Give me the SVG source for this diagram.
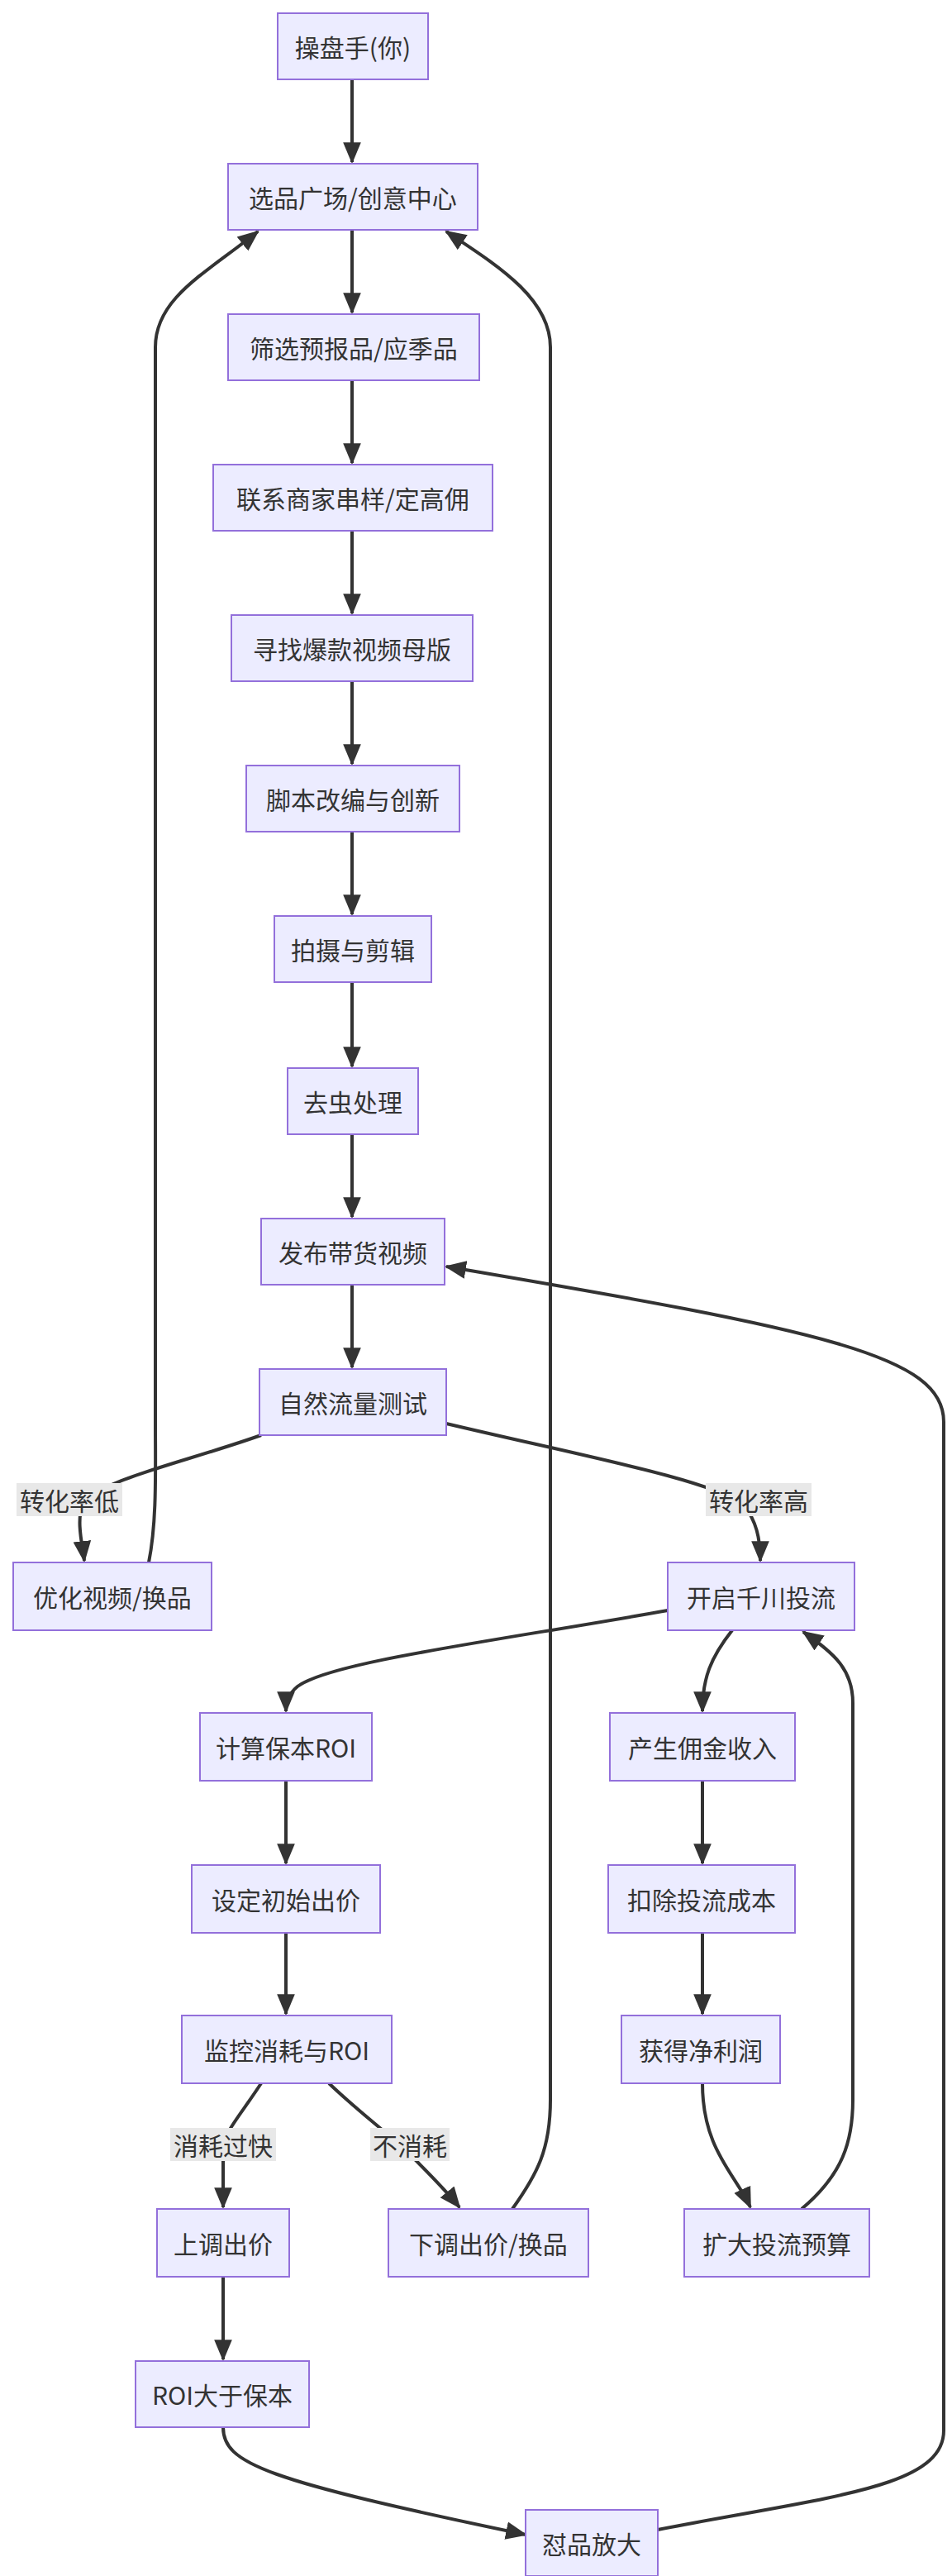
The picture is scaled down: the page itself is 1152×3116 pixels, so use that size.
<svg xmlns="http://www.w3.org/2000/svg" width="1152" height="3116" viewBox="0 0 1152 3116">
<style>
.n rect{fill:#ECECFF;stroke:#9370DB;stroke-width:2}
.n text,.l text{font-family:"Noto Sans CJK SC","Liberation Sans",sans-serif;font-size:30px;fill:#333;text-anchor:middle;dominant-baseline:central}
.e path{fill:none;stroke:#333;stroke-width:4}
.l rect{fill:#e8e8e8}
</style>
<defs><marker id="a" viewBox="0 0 12 12" refX="11" refY="6" markerWidth="26" markerHeight="26" markerUnits="userSpaceOnUse" orient="auto"><path d="M0,1 L12,6 L0,11 z" fill="#333"/></marker></defs>
<rect width="1152" height="3116" fill="#fff"/>
<g class="e" marker-end="url(#a)">
<path d="M426,96 V196" marker-end="url(#a)"/>
<path d="M426,278 V378" marker-end="url(#a)"/>
<path d="M426,460 V560" marker-end="url(#a)"/>
<path d="M426,642 V742" marker-end="url(#a)"/>
<path d="M426,824 V924" marker-end="url(#a)"/>
<path d="M426,1006 V1106" marker-end="url(#a)"/>
<path d="M426,1188 V1290" marker-end="url(#a)"/>
<path d="M426,1372 V1472" marker-end="url(#a)"/>
<path d="M426,1554 V1654" marker-end="url(#a)"/>
<path d="M316,1736 C220,1770 120,1790 100,1820 C92,1840 100,1870 102,1888" marker-end="url(#a)"/>
<path d="M540,1722 C700,1760 860,1790 900,1820 C915,1840 920,1860 920,1888" marker-end="url(#a)"/>
<path d="M180,1890 C190,1840 188,1780 188,1720 V420 C188,360 250,330 312,280" marker-end="url(#a)"/>
<path d="M620,2672 C650,2630 666,2600 666,2540 V420 C666,360 600,320 540,280" marker-end="url(#a)"/>
<path d="M808,1948 C600,1985 400,2010 360,2040 C348,2050 346,2060 346,2070" marker-end="url(#a)"/>
<path d="M886,1972 C860,2005 850,2030 850,2070" marker-end="url(#a)"/>
<path d="M850,2154 V2254" marker-end="url(#a)"/>
<path d="M850,2338 V2436" marker-end="url(#a)"/>
<path d="M850,2520 C850,2600 890,2630 908,2670" marker-end="url(#a)"/>
<path d="M970,2672 C1020,2630 1032,2590 1032,2540 V2060 C1032,2020 1010,2000 972,1974" marker-end="url(#a)"/>
<path d="M346,2154 V2254" marker-end="url(#a)"/>
<path d="M346,2338 V2436" marker-end="url(#a)"/>
<path d="M316,2520 C290,2560 270,2580 270,2600 V2670" marker-end="url(#a)"/>
<path d="M398,2520 C440,2560 470,2580 500,2610 C520,2630 540,2650 556,2670" marker-end="url(#a)"/>
<path d="M270,2754 V2854" marker-end="url(#a)"/>
<path d="M270,2936 C270,2980 320,3000 636,3066" marker-end="url(#a)"/>
<path d="M796,3060 C1000,3020 1142,3010 1142,2940 V1720 C1142,1640 1000,1610 540,1532" marker-end="url(#a)"/>
</g>
<g class="l">
<rect x="20" y="1794" width="128" height="40"/><text x="84" y="1814">转化率低</text>
<rect x="854" y="1794" width="128" height="40"/><text x="918" y="1814">转化率高</text>
<rect x="206" y="2574" width="128" height="40"/><text x="270" y="2594">消耗过快</text>
<rect x="448" y="2574" width="96" height="40"/><text x="496" y="2594">不消耗</text>
</g>
<g id="n1" class="n"><rect x="336" y="16" width="182" height="80"/><text x="427" y="56">操盘手(你)</text></g>
<g id="n2" class="n"><rect x="276" y="198" width="302" height="80"/><text x="427" y="238">选品广场/创意中心</text></g>
<g id="n3" class="n"><rect x="276" y="380" width="304" height="80"/><text x="428" y="420">筛选预报品/应季品</text></g>
<g id="n4" class="n"><rect x="258" y="562" width="338" height="80"/><text x="427" y="602">联系商家串样/定高佣</text></g>
<g id="n5" class="n"><rect x="280" y="744" width="292" height="80"/><text x="426" y="784">寻找爆款视频母版</text></g>
<g id="n6" class="n"><rect x="298" y="926" width="258" height="80"/><text x="427" y="966">脚本改编与创新</text></g>
<g id="n7" class="n"><rect x="332" y="1108" width="190" height="80"/><text x="427" y="1148">拍摄与剪辑</text></g>
<g id="n8" class="n"><rect x="348" y="1292" width="158" height="80"/><text x="427" y="1332">去虫处理</text></g>
<g id="n9" class="n"><rect x="316" y="1474" width="222" height="80"/><text x="427" y="1514">发布带货视频</text></g>
<g id="n10" class="n"><rect x="314" y="1656" width="226" height="80"/><text x="427" y="1696">自然流量测试</text></g>
<g id="n11" class="n"><rect x="16" y="1890" width="240" height="82"/><text x="136" y="1931">优化视频/换品</text></g>
<g id="n12" class="n"><rect x="808" y="1890" width="226" height="82"/><text x="921" y="1931">开启千川投流</text></g>
<g id="n13" class="n"><rect x="242" y="2072" width="208" height="82"/><text x="346" y="2113">计算保本ROI</text></g>
<g id="n14" class="n"><rect x="738" y="2072" width="224" height="82"/><text x="850" y="2113">产生佣金收入</text></g>
<g id="n15" class="n"><rect x="232" y="2256" width="228" height="82"/><text x="346" y="2297">设定初始出价</text></g>
<g id="n16" class="n"><rect x="736" y="2256" width="226" height="82"/><text x="849" y="2297">扣除投流成本</text></g>
<g id="n17" class="n"><rect x="220" y="2438" width="254" height="82"/><text x="347" y="2479">监控消耗与ROI</text></g>
<g id="n18" class="n"><rect x="752" y="2438" width="192" height="82"/><text x="848" y="2479">获得净利润</text></g>
<g id="n19" class="n"><rect x="190" y="2672" width="160" height="82"/><text x="270" y="2713">上调出价</text></g>
<g id="n20" class="n"><rect x="470" y="2672" width="242" height="82"/><text x="591" y="2713">下调出价/换品</text></g>
<g id="n21" class="n"><rect x="828" y="2672" width="224" height="82"/><text x="940" y="2713">扩大投流预算</text></g>
<g id="n22" class="n"><rect x="164" y="2856" width="210" height="80"/><text x="269" y="2896">ROI大于保本</text></g>
<g id="n23" class="n"><rect x="636" y="3036" width="160" height="80"/><text x="716" y="3076">怼品放大</text></g>
</svg>
